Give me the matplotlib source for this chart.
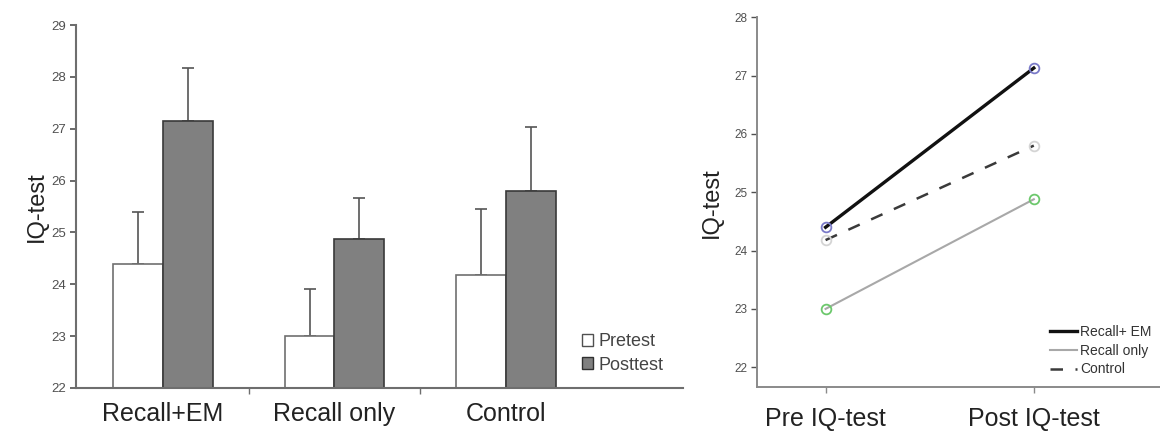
import matplotlib
matplotlib.use("Agg")
import matplotlib.pyplot as plt
import numpy as np
from matplotlib.lines import Line2D
from matplotlib.patches import Patch

plt.rcParams['font.family'] = ['Liberation Sans', 'DejaVu Sans']

groups = ["Recall+EM", "Recall only", "Control"]
pretest = [24.4, 23.0, 24.18]
posttest = [27.15, 24.87, 25.8]
pre_err = [1.0, 0.9, 1.27]
post_err = [1.02, 0.79, 1.23]

phases = ["Pre IQ-test", "Post IQ-test"]
line_names = ["Recall+ EM", "Recall only", "Control"]
line_vals = [[24.4, 27.13], [23.0, 24.88], [24.18, 25.8]]

axis_col = "#6e6e6e"
tick_col = "#505050"

fig = plt.figure(figsize=(11.6, 4.32), dpi=100)

# ---- left: bar chart ----
ax = fig.add_axes([0.0655, 0.102, 0.523, 0.840])
x = np.arange(len(groups))
w = 0.29
ax.bar(x - w / 2, pretest, w, color="white", edgecolor="#707070", linewidth=1.2,
       label="Pretest", zorder=2)
ax.bar(x + w / 2, posttest, w, color="#808080", edgecolor="#3a3a3a", linewidth=1.2,
       label="Posttest", zorder=2)
ax.errorbar(x - w / 2, pretest, yerr=[np.zeros(3), pre_err], fmt="none", ecolor="#555555",
            elinewidth=1.2, capsize=4, capthick=1.2, zorder=1)
ax.errorbar(x + w / 2, posttest, yerr=[np.zeros(3), post_err], fmt="none", ecolor="#555555",
            elinewidth=1.2, capsize=4, capthick=1.2, zorder=1)
ax.set_ylim(22, 29)
ax.set_xlim(-0.507, 3.03)
for s in ["top", "right"]:
    ax.spines[s].set_visible(False)
for s in ["left", "bottom"]:
    ax.spines[s].set_color(axis_col)
    ax.spines[s].set_linewidth(1.5)
ax.set_yticks(range(22, 30))
ax.tick_params(axis="y", labelsize=9.5, colors=tick_col, length=4, width=1.2)
ax.set_xticks(x)
ax.set_xticklabels(groups, fontsize=18, color="#222222")
ax.tick_params(axis="x", length=0, pad=10)
ax.set_xticks([0.5, 1.5], minor=True)
ax.tick_params(axis="x", which="minor", length=4, width=1, colors=axis_col)
ax.set_ylabel("IQ-test", fontsize=17, color="#222222", labelpad=2)
handles = [Patch(facecolor="white", edgecolor="#505050", linewidth=1),
           Patch(facecolor="#808080", edgecolor="#303030", linewidth=1)]
ax.legend(handles, ["Pretest", "Posttest"], loc="lower right", bbox_to_anchor=(0.995, -0.005),
          frameon=False, fontsize=13, handlelength=0.6, handleheight=0.6,
          handletextpad=0.3, labelspacing=0.35, labelcolor="#444444")

# ---- right: line chart ----
ax2 = fig.add_axes([0.653, 0.104, 0.347, 0.856])
px = np.arange(len(phases))
styles = [dict(color="#111111", lw=2.4, ls="-"),
          dict(color="#a8a8a8", lw=1.5, ls="-"),
          dict(color="#3a3a3a", lw=1.8, ls=(0, (5, 5)))]
mcols = ["#7a7ac8", "#6cc86c", "#d4d4d4"]
for name, vals, st, mc in zip(line_names, line_vals, styles, mcols):
    ax2.plot(px, vals, label=name, **st)
    ax2.plot(px, vals, ls="none", marker="o", ms=7, mfc="none", mec=mc, mew=1.3)
ax2.set_xlim(-0.327, 1.606)
ax2.set_ylim(21.66, 28)
for s in ["top", "right"]:
    ax2.spines[s].set_visible(False)
for s in ["left", "bottom"]:
    ax2.spines[s].set_color("#8a8a8a")
    ax2.spines[s].set_linewidth(1.4)
ax2.set_yticks(range(22, 29))
ax2.tick_params(axis="y", labelsize=8.5, colors=tick_col, length=4, width=1)
ax2.set_xticks(px)
ax2.set_xticklabels(phases, fontsize=18, color="#222222")
ax2.tick_params(axis="x", length=4, width=1, colors="#8a8a8a", pad=10, labelcolor="#222222")
ax2.set_ylabel("IQ-test", fontsize=17, color="#222222", labelpad=8)
lh = [Line2D([], [], **st) for st in styles]
ax2.legend(lh, line_names, loc="lower right", bbox_to_anchor=(1.01, -0.005), frameon=False,
           fontsize=10, handlelength=2.0, handletextpad=0.2, labelspacing=0.35,
           labelcolor="#333333")

fig.savefig("out.png", dpi=100)
